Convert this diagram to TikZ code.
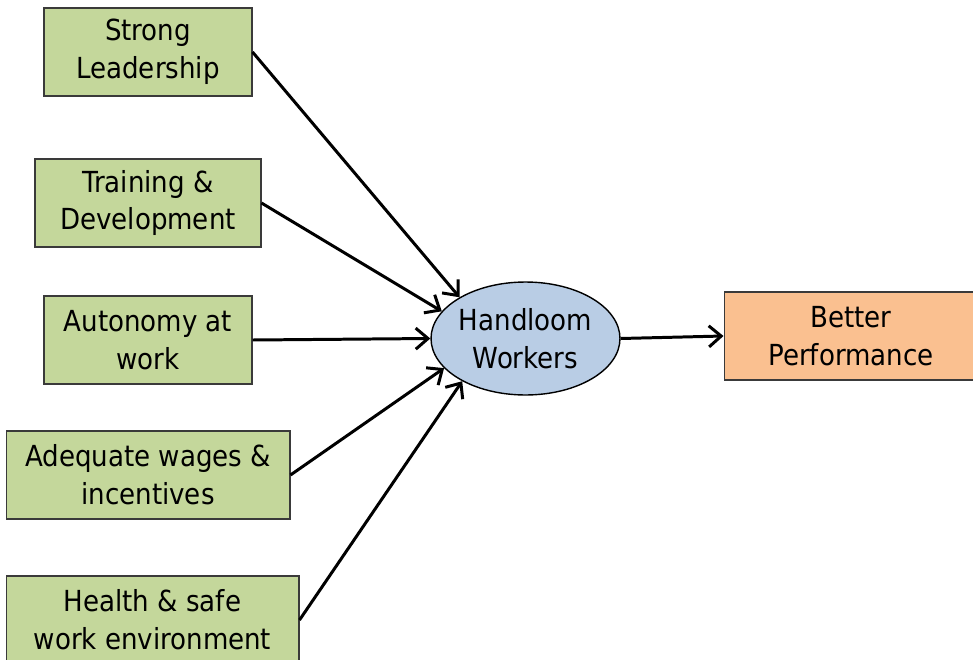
\documentclass[tikz,border=0pt]{standalone}
\usepackage{fontspec}
\setmainfont{DejaVu Sans Condensed}
\usetikzlibrary{shapes.geometric,arrows.meta}
\definecolor{factorgreen}{HTML}{C4D79B}
\definecolor{workerblue}{HTML}{B9CDE5}
\definecolor{resultorange}{HTML}{FAC090}
\definecolor{edgegray}{HTML}{3A3A3A}

\begin{document}
\begin{tikzpicture}[x=0.02cm, y=-0.02cm, every node/.style={align=center, font=\fontsize{16.5}{21.5}\selectfont},
  factor/.style={rectangle, draw=edgegray, line width=0.6pt, fill=factorgreen, minimum height=1.76cm, inner sep=0pt},
  link/.style={line width=1.7pt, -{Straight Barb[length=7pt, width=12pt, line width=1.7pt]}}]
\useasboundingbox (0,0) rectangle (973,659);

% Factors
\node[factor, minimum width=4.16cm] (lead) at (148,52) {Strong\\Leadership};
\node[factor, minimum width=4.52cm] (train) at (148,203) {Training \&\\Development};
\node[factor, minimum width=4.16cm] (auto) at (148,340) {Autonomy at\\work};
\node[factor, minimum width=5.68cm] (wage) at (148,475) {Adequate wages \&\\incentives};
\node[factor, minimum width=5.86cm] (safe) at (152.5,620) {Health \& safe\\work environment};

% Workers
\node[ellipse, draw=black, line width=0.8pt, fill=workerblue, minimum width=3.78cm, minimum height=2.26cm, inner sep=0pt] (hw) at (525.5,338.5) {Handloom\\Workers};

% Result
\node[rectangle, draw=edgegray, line width=0.6pt, fill=resultorange, minimum width=5.08cm, minimum height=1.76cm, inner sep=0pt] (perf) at (851,336) {Better\\Performance};

% Links
\draw[link] (lead.east) -- (hw.148);
\draw[link] (train.east) -- (hw.162);
\draw[link] (auto.east) -- (hw.180);
\draw[link] (wage.east) -- (hw.200);
\draw[link] (safe.east) -- (hw.214);
\draw[link] (hw.east) -- (perf.west);
\end{tikzpicture}
\end{document}
